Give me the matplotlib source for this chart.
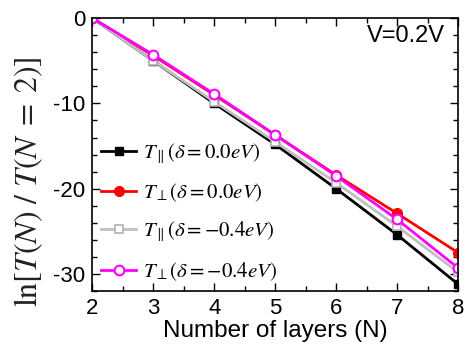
import matplotlib
matplotlib.use("Agg")
import matplotlib.pyplot as plt
from matplotlib.ticker import MultipleLocator

plt.rcParams['font.family'] = ['Liberation Sans', 'DejaVu Sans']
plt.rcParams['mathtext.fontset'] = 'stix'
plt.rcParams['axes.unicode_minus'] = False

N = [2, 3, 4, 5, 6, 7, 8]
par_d0 = [0, -5.0, -10.0, -14.8, -20.0, -25.4, -31.2]
perp_d0 = [0, -4.4, -9.0, -13.7, -18.4, -22.9, -27.5]
par_d4 = [0, -5.0, -9.8, -14.5, -19.3, -24.4, -29.8]
perp_d4 = [0, -4.3, -8.9, -13.7, -18.5, -23.6, -29.3]

labels = [r'$T_{\parallel}(\delta=0.0eV)$', r'$T_{\perp}(\delta=0.0eV)$',
          r'$T_{\parallel}(\delta=-0.4eV)$', r'$T_{\perp}(\delta=-0.4eV)$']

fig = plt.figure(figsize=(4.68, 3.47), dpi=100)
ax = fig.add_axes([0.197, 0.161, 0.782, 0.787])

ax.plot(N, par_d0, color='black', lw=2, marker='s', ms=6, mfc='black', mec='black', label=labels[0])
ax.plot(N, perp_d0, color='#ff0000', lw=2, marker='o', ms=7, mfc='#ff0000', mec='#ff0000', label=labels[1])
ax.plot(N, par_d4, color='#c0c0c0', lw=2, marker='s', ms=6, mfc='white', mec='#b0b0b0', mew=1.2, label=labels[2])
ax.plot(N, perp_d4, color='#ff00ff', lw=2, marker='o', ms=7, mfc='white', mec='#ff00ff', mew=1.5, label=labels[3])

ax.set_xlim(2, 8)
ax.set_ylim(-32, 0)
ax.xaxis.set_major_locator(MultipleLocator(1))
ax.xaxis.set_minor_locator(MultipleLocator(0.5))
ax.yaxis.set_major_locator(MultipleLocator(10))
ax.yaxis.set_minor_locator(MultipleLocator(2))
ax.tick_params(which='both', direction='in', top=True, right=True, labelsize=16, pad=5)
ax.tick_params(which='major', length=6, width=1)
ax.tick_params(which='minor', length=3.5, width=1)
for s in ax.spines.values():
    s.set_linewidth(1.2)

ax.set_xlabel('Number of layers (N)', fontsize=17.5, labelpad=1)
ax.set_ylabel(r'$\ln[T(N)\ /\ T(N\;=\;2)]$', fontsize=23, color='#222222')
ax.yaxis.set_label_coords(-0.128, 0.40)

ax.text(0.965, 0.935, 'V=0.2V', transform=ax.transAxes, ha='right', va='center', fontsize=17)

ax.legend(loc='lower left', bbox_to_anchor=(-0.01, -0.015), frameon=False, fontsize=15,
          handlelength=1.7, handletextpad=0.3, labelspacing=0.75, borderaxespad=0.2)

fig.savefig('out.png', dpi=100)
